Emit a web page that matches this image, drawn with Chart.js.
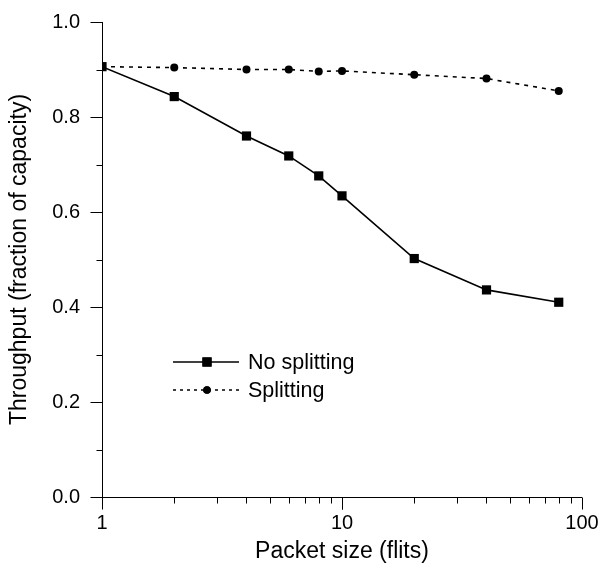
<!DOCTYPE html>
<html>
<head>
<meta charset="utf-8">
<script src="https://cdn.jsdelivr.net/npm/chart.js@4/dist/chart.umd.min.js"></script>
<style>
  html, body { margin: 0; padding: 0; background: #fff; }
  #wrap { width: 600px; height: 570px; }
</style>
</head>
<body>
<div id="wrap"><canvas id="grafico" width="600" height="570"></canvas></div>
<script>
const tamanos = [1, 2, 4, 6, 8, 10, 20, 40, 80];
const sinDivision = [0.906, 0.843, 0.760, 0.718, 0.676, 0.634, 0.502, 0.436, 0.410];
const conDivision = [0.906, 0.904, 0.900, 0.900, 0.896, 0.897, 0.889, 0.881, 0.855];
const etiquetasX = [1, 10, 100];
const etiquetasY = [0, 0.2, 0.4, 0.6, 0.8, 1.0];

const fuente = "'Liberation Sans', Arial, sans-serif";
Chart.defaults.font.family = fuente;
Chart.defaults.color = "#000";

function puntos(ys) {
  return tamanos.map((x, i) => ({ x, y: ys[i] }));
}

// ticks de los ejes, mayores y menores
const marcasEjes = {
  id: "marcasEjes",
  afterDraw(chart) {
    const ctx = chart.ctx;
    const sx = chart.scales.x;
    const sy = chart.scales.y;
    const area = chart.chartArea;
    ctx.save();
    ctx.strokeStyle = "#000";
    ctx.lineWidth = 1;
    ctx.beginPath();
    // eje y
    const px0 = Math.round(area.left) + 0.5;
    ctx.moveTo(px0, sy.getPixelForValue(1));
    ctx.lineTo(px0, sy.getPixelForValue(0));
    for (let i = 0; i <= 10; i++) {
      const v = i / 10;
      const py = Math.round(sy.getPixelForValue(v)) + 0.5;
      const largo = i % 2 === 0 ? 12 : 6;
      ctx.moveTo(px0 - largo, py);
      ctx.lineTo(px0, py);
    }
    // eje x
    const py0 = Math.round(sy.getPixelForValue(0)) + 0.5;
    ctx.moveTo(sx.getPixelForValue(1), py0);
    ctx.lineTo(sx.getPixelForValue(100), py0);
    for (let d = 1; d <= 10; d *= 10) {
      for (let k = 1; k <= 10; k++) {
        const v = d * k;
        if (v > 100) continue;
        const px = Math.round(sx.getPixelForValue(v)) + 0.5;
        const largo = etiquetasX.includes(v) ? 12 : 6;
        ctx.moveTo(px, py0);
        ctx.lineTo(px, py0 + largo);
      }
    }
    ctx.stroke();
    ctx.restore();
  }
};

// leyenda dentro del area
const leyenda = {
  id: "leyenda",
  afterDraw(chart) {
    const ctx = chart.ctx;
    const filas = [
      { texto: "No splitting", dash: [], estilo: "rect", radio: 6.5, y: 362 },
      { texto: "Splitting", dash: [3, 4], estilo: "circle", radio: 3.8, y: 390 }
    ];
    ctx.save();
    filas.forEach((f) => {
      ctx.strokeStyle = "#000";
      ctx.lineWidth = 1.5;
      ctx.setLineDash(f.dash);
      ctx.beginPath();
      ctx.moveTo(173, f.y);
      ctx.lineTo(239, f.y);
      ctx.stroke();
      ctx.setLineDash([]);
      ctx.fillStyle = "#000";
      Chart.helpers.drawPoint(ctx, { pointStyle: f.estilo, radius: f.radio, borderWidth: 0, rotation: 0 }, 207, f.y);
      ctx.fill();
      ctx.font = "21.5px " + fuente;
      ctx.textBaseline = "middle";
      ctx.textAlign = "left";
      ctx.fillText(f.texto, 248, f.y + 1);
    });
    ctx.restore();
  }
};

new Chart(document.getElementById("grafico"), {
  type: "line",
  data: {
    datasets: [
      {
        label: "No splitting",
        data: puntos(sinDivision),
        borderColor: "#000",
        backgroundColor: "#000",
        borderWidth: 1.6,
        pointStyle: "rect",
        pointRadius: 6.5,
        pointBorderWidth: 0,
        tension: 0
      },
      {
        label: "Splitting",
        data: puntos(conDivision),
        borderColor: "#000",
        backgroundColor: "#000",
        borderWidth: 1.6,
        borderDash: [4, 5],
        pointStyle: "circle",
        pointRadius: 4,
        pointBorderWidth: 0,
        tension: 0
      }
    ]
  },
  options: {
    responsive: false,
    animation: false,
    layout: { padding: { top: 22, right: 0, left: 6, bottom: 5 } },
    plugins: { legend: { display: false }, tooltip: { enabled: false } },
    scales: {
      x: {
        type: "logarithmic",
        min: 1,
        max: 100,
        grid: { display: false },
        border: { display: false },
        afterBuildTicks: (scale) => { scale.ticks = etiquetasX.map((v) => ({ value: v })); },
        afterFit: (scale) => { scale.height = 68; scale.paddingRight = 18; },
        ticks: {
          font: { size: 20 },
          padding: 6,
          maxRotation: 0,
          callback: (v) => String(v)
        },
        title: { display: true, text: "Packet size (flits)", font: { size: 23 }, padding: { top: 0, bottom: 0 } }
      },
      y: {
        min: 0,
        max: 1,
        grid: { display: false },
        border: { display: false },
        afterBuildTicks: (scale) => { scale.ticks = etiquetasY.map((v) => ({ value: v })); },
        afterFit: (scale) => { scale.width = 96; scale.paddingTop = 0; scale.paddingBottom = 0; },
        ticks: {
          font: { size: 20 },
          padding: 14,
          callback: (v) => Number(v).toFixed(1)
        },
        title: { display: true, text: "Throughput (fraction of capacity)", font: { size: 23 }, padding: { top: 0, bottom: 0 } }
      }
    }
  },
  plugins: [marcasEjes, leyenda]
});
</script>
</body>
</html>
